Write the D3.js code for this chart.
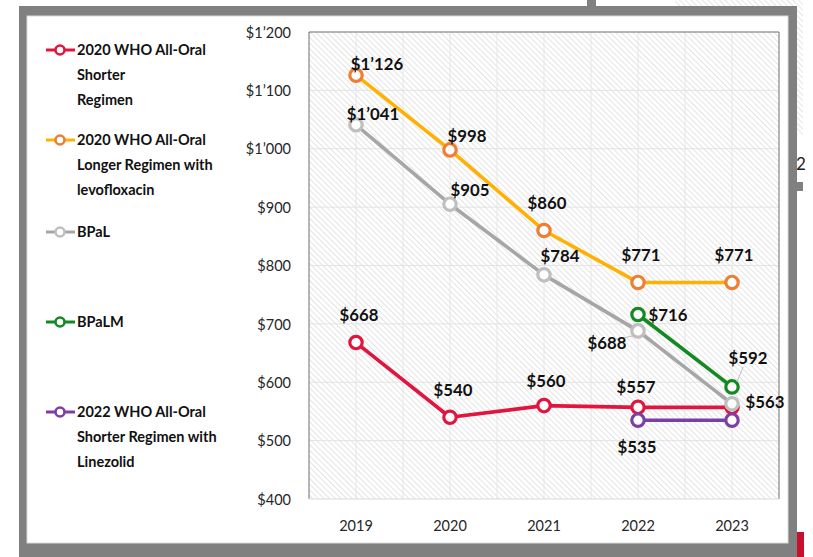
<!DOCTYPE html>
<html><head><meta charset="utf-8">
<script src="https://cdn.jsdelivr.net/npm/d3@7"></script>
<style>html,body{margin:0;padding:0;background:#fff;} svg{display:block;}</style>
</head><body>
<svg id="c" width="813" height="557"></svg>
<script>
// ---------- data ----------
const years = ["2019", "2020", "2021", "2022", "2023"];
const yTicks = [400, 500, 600, 700, 800, 900, 1000, 1100, 1200];
const shorter2020 = [668, 540, 560, 557, 557];
const longer2020 = [1126, 998, 860, 771, 771];
const bpal = [1041, 905, 784, 688, 563];
const bpalm = [null, null, null, 716, 592];
const shorter2022 = [null, null, null, 535, 535];
const seriesNames = [
  "2020 WHO All-Oral Shorter Regimen",
  "2020 WHO All-Oral Longer Regimen with levofloxacin",
  "BPaL",
  "BPaLM",
  "2022 WHO All-Oral Shorter Regimen with Linezolid"
];
const legendLines = [
  ["2020 WHO All-Oral", "Shorter", "Regimen"],
  ["2020 WHO All-Oral", "Longer Regimen with", "levofloxacin"],
  ["BPaL"],
  ["BPaLM"],
  ["2022 WHO All-Oral", "Shorter Regimen with", "Linezolid"]
];
const showLabels = [
  [true, true, true, true, false],
  [true, true, true, true, true],
  [true, true, true, true, true],
  [false, false, false, true, true],
  [false, false, false, true, false]
];
// ---------- styling / layout ----------
const lineColors = ["#E1153D", "#FFB000", "#A6A6A6", "#138A21", "#7B3FA6"];
const markerColors = ["#E1153D", "#EF7E32", "#BFBFBF", "#138A21", "#7B3FA6"];
// label centre offsets from point (dx, dy)
const labelOffsets = [
  [[3, -28], [3, -27], [2, -25], [-2, -20], null],
  [[21, -11], [17, -14], [3, -28], [3, -27], [2, -27]],
  [[17, -11], [20, -14], [16, -19], [-31, 12], [33, -2]],
  [null, null, null, [30, 0], [16, -29]],
  [null, null, null, [-1, 27], null]
];
const allSeries = [shorter2020, longer2020, bpal, bpalm, shorter2022];

const svg = d3.select("#c");
const FONT = "Lato, 'Open Sans', sans-serif";

// hatch pattern
const defs = svg.append("defs");
const pat = defs.append("pattern").attr("id", "hatch")
  .attr("patternUnits", "userSpaceOnUse").attr("width", 4).attr("height", 4)
  .attr("patternTransform", "rotate(-45)");
pat.append("rect").attr("width", 4).attr("height", 4).attr("fill", "#fff");
pat.append("line").attr("x1", 0).attr("y1", 0).attr("x2", 0).attr("y2", 4)
  .attr("stroke", "#d6d6d6").attr("stroke-width", 1.3);

// background artifacts (outside frame)
svg.append("rect").attr("x", 675).attr("y", 0).attr("width", 128).attr("height", 7).attr("fill", "url(#hatch)");
svg.append("rect").attr("x", 797).attr("y", 0).attr("width", 6).attr("height", 135).attr("fill", "url(#hatch)");
svg.append("rect").attr("x", 587).attr("y", 0).attr("width", 9).attr("height", 7).attr("fill", "#808080");
svg.append("text").attr("x", 796).attr("y", 170).attr("font-family", FONT).attr("font-size", 17).attr("fill", "#222").text("2");
svg.append("rect").attr("x", 797).attr("y", 182).attr("width", 6).attr("height", 9).attr("fill", "#808080");
svg.append("rect").attr("x", 797).attr("y", 532).attr("width", 7).attr("height", 25).attr("fill", "#C8102E");

// frame
svg.append("rect").attr("x", 19).attr("y", 6).attr("width", 778).attr("height", 551).attr("fill", "#808080");
svg.append("rect").attr("x", 27).attr("y", 16).attr("width", 761).attr("height", 527).attr("fill", "#fff")
  .attr("stroke", "#d9d9d9").attr("stroke-width", 1);

// scales
const plot = {left: 309, right: 779, top: 32, bottom: 499};
const x = d3.scaleBand().domain(years).range([plot.left, plot.right]).padding(0);
const y = d3.scaleLinear().domain([400, 1200]).range([plot.bottom, plot.top]);
const cx = d => x(d) + x.bandwidth() / 2;

// plot background
svg.append("rect").attr("x", plot.left).attr("y", plot.top)
  .attr("width", plot.right - plot.left).attr("height", plot.bottom - plot.top)
  .attr("fill", "url(#hatch)");

// gridlines
const g = svg.append("g");
const vGrid = [];
years.forEach(d => { vGrid.push(x(d)); vGrid.push(cx(d)); });
g.selectAll(".vg").data(vGrid.slice(1)).join("line")
  .attr("x1", d => d).attr("x2", d => d).attr("y1", plot.top).attr("y2", plot.bottom)
  .attr("stroke", "#e6e6e6").attr("stroke-width", 1);
g.selectAll(".hg").data(yTicks.slice(1, -1)).join("line")
  .attr("x1", plot.left).attr("x2", plot.right).attr("y1", d => y(d)).attr("y2", d => y(d))
  .attr("stroke", "#e3e3e3").attr("stroke-width", 1);

// plot border
svg.append("path")
  .attr("d", `M${plot.left},${plot.bottom} V${plot.top} H${plot.right} V${plot.bottom}`)
  .attr("fill", "none").attr("stroke", "#6e6e6e").attr("stroke-width", 1);
svg.append("line").attr("x1", plot.left).attr("x2", plot.right).attr("y1", plot.bottom).attr("y2", plot.bottom)
  .attr("stroke", "#d9d9d9");

// axes
const fmt = v => "$" + d3.format(",")(v).replace(",", "\u2019");
const yAxis = d3.axisLeft(y).tickValues(yTicks).tickFormat(fmt).tickSize(0).tickPadding(0);
const ya = svg.append("g").attr("transform", `translate(291,0)`).call(yAxis);
ya.select(".domain").remove();
ya.selectAll("text").attr("font-family", FONT).attr("font-size", 14.5).attr("fill", "#262626").attr("dy", "0.36em");

const xAxis = d3.axisBottom(x).tickSize(0).tickPadding(0);
const xa = svg.append("g").attr("transform", `translate(0,521)`).call(xAxis);
xa.select(".domain").remove();
xa.selectAll("text").attr("font-family", FONT).attr("font-size", 14.5).attr("fill", "#262626").attr("dy", "0.71em");

// series
const line = d3.line().defined(d => d.v != null).x(d => cx(d.year)).y(d => y(d.v));
allSeries.forEach((vals, si) => {
  const pts = vals.map((v, i) => ({year: years[i], v, i}));
  const sg = svg.append("g");
  sg.append("path").datum(pts).attr("d", line).attr("fill", "none")
    .attr("stroke", lineColors[si]).attr("stroke-width", 3.6).attr("stroke-linejoin", "round");
  sg.selectAll("circle").data(pts.filter(d => d.v != null)).join("circle")
    .attr("cx", d => cx(d.year)).attr("cy", d => y(d.v)).attr("r", 6.2)
    .attr("fill", "#fff").attr("stroke", markerColors[si]).attr("stroke-width", 3.2);
});

// leader lines
const leaders = [[2, 3], [3, 4]];
leaders.forEach(([si, i]) => {
  const v = allSeries[si][i], off = labelOffsets[si][i];
  const px = cx(years[i]), py = y(v);
  const lx = px + off[0] * 0.7, ly = py + off[1] * 0.7;
  svg.append("line").attr("x1", px + Math.sign(off[0]) * 5).attr("y1", py + Math.sign(off[1]) * 5)
    .attr("x2", lx).attr("y2", ly).attr("stroke", "#bfbfbf").attr("stroke-width", 1);
});

// value labels
allSeries.forEach((vals, si) => {
  vals.forEach((v, i) => {
    if (v == null || !showLabels[si][i]) return;
    const off = labelOffsets[si][i];
    svg.append("text").attr("x", cx(years[i]) + off[0]).attr("y", y(v) + off[1])
      .attr("dy", "0.36em").attr("text-anchor", "middle")
      .attr("font-family", FONT).attr("font-weight", "bold").attr("font-size", 16.8)
      .attr("fill", "#111").text(fmt(v));
  });
});

// legend
const legendY = [50, 140, 232, 322, 412];
legendLines.forEach((lines, si) => {
  const lg = svg.append("g").attr("transform", `translate(0,${legendY[si]})`);
  lg.append("line").attr("x1", 46).attr("x2", 75).attr("y1", 0).attr("y2", 0)
    .attr("stroke", lineColors[si]).attr("stroke-width", 3);
  lg.append("circle").attr("cx", 60).attr("cy", 0).attr("r", 4.5)
    .attr("fill", "#fff").attr("stroke", markerColors[si]).attr("stroke-width", 2.6);
  lines.forEach((t, li) => {
    lg.append("text").attr("x", 77).attr("y", li * 24.7).attr("dy", "0.36em")
      .attr("font-family", FONT).attr("font-weight", "bold").attr("font-size", 14.5)
      .attr("fill", "#111").text(t);
  });
});
</script>
</body></html>
